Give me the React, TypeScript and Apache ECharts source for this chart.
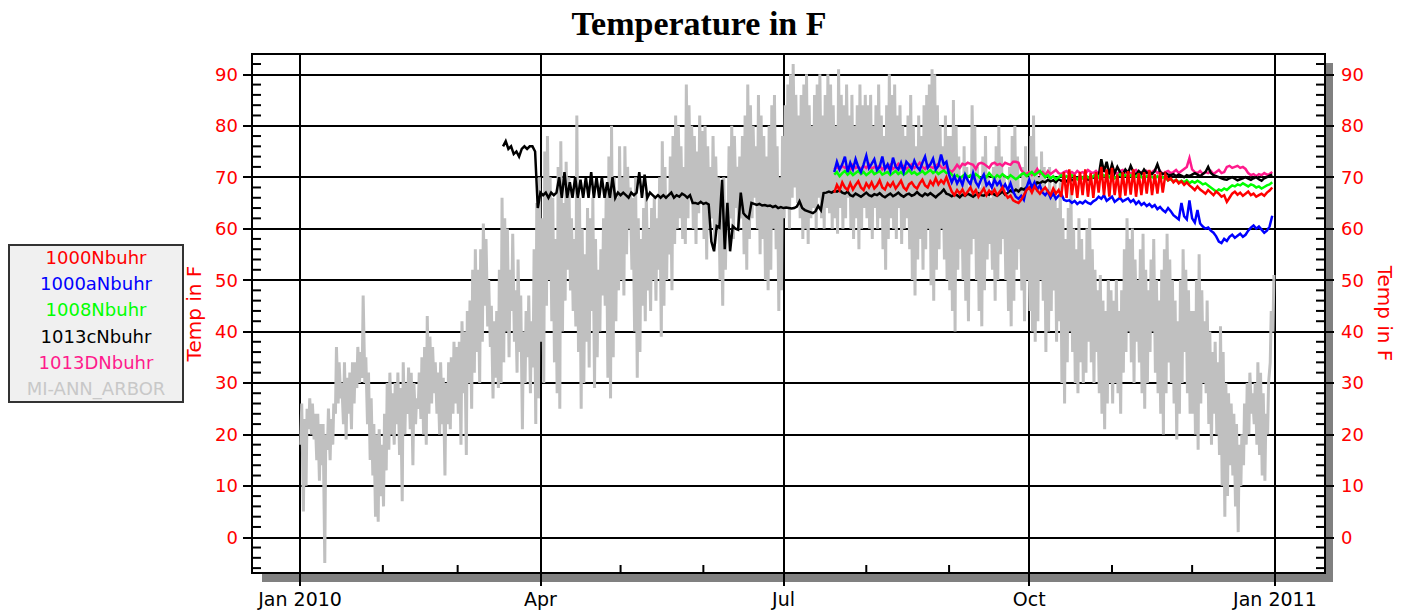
import React, { useEffect, useRef } from 'react';
import * as echarts from 'echarts';

// ---------- names, colours, ticks ----------
const seriesNames = ['1000Nbuhr', '1000aNbuhr', '1008Nbuhr', '1013cNbuhr', '1013DNbuhr', 'MI-ANN_ARBOR'];
const seriesColors = ['#ff0000', '#0000ff', '#00ff00', '#000000', '#ff1a8c', '#c0c0c0'];
const legendTextColors = ['#ff0000', '#0000ff', '#00ff00', '#000000', '#ff1a8c', '#c8c8c8'];
const seriesWidths = [2.5, 2.5, 2.5, 2.5, 2.5, 3];

const yTickValues = [0, 10, 20, 30, 40, 50, 60, 70, 80, 90];
const yMinorTicks = [-6, -4, -2, 2, 4, 6, 8, 12, 14, 16, 18, 22, 24, 26, 28, 32, 34, 36, 38, 42, 44, 46, 48,
  52, 54, 56, 58, 62, 64, 66, 68, 72, 74, 76, 78, 82, 84, 86, 88, 92];
const quarterTicks = ['2010-01-01', '2010-04-01', '2010-07-01', '2010-10-01', '2011-01-01'];
const quarterLabels = ['Jan 2010', 'Apr', 'Jul', 'Oct', 'Jan 2011'];
const monthTicks = ['2010-02-01', '2010-03-01', '2010-05-01', '2010-06-01', '2010-08-01', '2010-09-01', '2010-11-01', '2010-12-01'];

// ---------- MI-ANN_ARBOR: daily low / high (deg F), from 2010-01-01 ----------
const arborLow = [
  // Jan
  18, 5, 10, 21, 20, 19, 15, 11, 14, -5, 17, 15, 18, 24, 26, 27, 22, 19, 24, 21, 26, 29, 30, 31, 30, 22, 15, 12, 4, 3, 8,
  // Feb
  6, 13, 17, 20, 18, 22, 16, 7, 20, 24, 21, 14, 22, 25, 23, 20, 18, 24, 26, 28, 24, 20, 22, 12, 22, 21, 24, 26,
  // Mar
  24, 18, 28, 16, 30, 25, 32, 36, 30, 38, 45, 41, 37, 27, 31, 29, 30, 34, 40, 35, 44, 38, 32, 36, 21, 30, 35, 28, 33, 22, 27,
  // Apr
  38, 30, 45, 50, 42, 34, 28, 25, 40, 46, 52, 48, 44, 41, 36, 25, 30, 38, 33, 44, 29, 35, 40, 47, 45, 31, 27, 35, 42, 48,
  // May
  50, 47, 55, 60, 52, 40, 31, 36, 45, 42, 48, 44, 50, 46, 52, 39, 45, 50, 55, 48, 57, 60, 62, 58, 57, 62, 66, 60, 57, 63, 65,
  // Jun
  58, 54, 60, 62, 57, 60, 50, 45, 52, 60, 62, 58, 64, 60, 62, 55, 52, 58, 62, 66, 60, 55, 58, 50, 48, 52, 60, 56, 44, 48,
  // Jul
  62, 64, 60, 66, 68, 65, 62, 58, 60, 57, 62, 64, 60, 66, 62, 60, 64, 63, 60, 62, 59, 64, 60, 62, 66, 60, 58, 62, 56, 60, 64,
  // Aug
  62, 60, 58, 64, 60, 62, 56, 52, 58, 62, 60, 58, 64, 57, 60, 62, 56, 50, 47, 54, 58, 52, 56, 60, 49, 46, 52, 56, 60, 54, 50,
  // Sep
  48, 44, 40, 52, 56, 50, 46, 42, 55, 58, 50, 44, 41, 48, 54, 57, 52, 46, 50, 55, 58, 50, 44, 41, 46, 52, 56, 48, 42, 50,
  // Oct
  44, 40, 38, 42, 50, 46, 36, 40, 44, 48, 38, 42, 30, 26, 34, 40, 36, 30, 28, 34, 30, 32, 38, 34, 30, 36, 28, 24, 21, 26, 30,
  // Nov
  26, 30, 28, 24, 32, 36, 40, 34, 30, 38, 34, 28, 25, 30, 36, 40, 32, 28, 24, 20, 28, 34, 30, 26, 19, 24, 30, 36, 28, 24,
  // Dec
  24, 20, 17, 26, 30, 28, 22, 18, 24, 20, 16, 10, 4, 8, 14, 12, 6, 1, 10, 14, 18, 20, 24, 22, 18, 16, 12, 11, 20, 34, 40,
];
const arborHigh = [
  // Jan
  26, 23, 25, 27, 26, 24, 24, 22, 22, 20, 25, 23, 26, 37, 34, 30, 34, 31, 32, 34, 34, 37, 36, 47, 35, 32, 27, 22, 20, 21, 18,
  // Feb
  24, 30, 32, 28, 30, 32, 29, 34, 30, 33, 32, 30, 27, 32, 35, 37, 43, 39, 37, 34, 32, 34, 31, 30, 34, 35, 38, 37,
  // Mar
  38, 42, 40, 44, 46, 52, 56, 52, 56, 61, 58, 50, 45, 42, 44, 52, 66, 62, 60, 52, 59, 48, 54, 47, 40, 44, 47, 42, 56, 65, 70,
  // Apr
  62, 75, 78, 70, 66, 58, 72, 77, 65, 73, 70, 62, 58, 82, 66, 60, 55, 64, 62, 66, 58, 52, 56, 62, 68, 74, 80, 70, 66, 76,
  // May
  70, 76, 72, 68, 66, 70, 62, 58, 64, 67, 60, 64, 66, 62, 70, 77, 72, 66, 74, 78, 82, 80, 76, 72, 88, 84, 80, 78, 75, 82, 79,
  // Jun
  80, 76, 72, 78, 74, 70, 66, 70, 62, 76, 80, 78, 72, 74, 78, 82, 88, 84, 80, 76, 86, 82, 78, 74, 80, 84, 86, 76, 70, 78,
  // Jul
  84, 88, 90, 92, 86, 82, 86, 88, 90, 84, 80, 86, 88, 90, 82, 86, 90, 88, 84, 80, 91, 86, 84, 88, 82, 86, 80, 84, 88, 84, 86,
  // Aug
  84, 86, 80, 84, 88, 82, 78, 84, 90, 86, 88, 82, 84, 80, 78, 82, 86, 80, 76, 82, 78, 84, 86, 88, 91, 90, 84, 80, 76, 82, 78,
  // Sep
  78, 85, 80, 74, 70, 76, 72, 68, 84, 80, 72, 68, 74, 78, 70, 66, 72, 76, 80, 74, 70, 66, 72, 78, 80, 74, 68, 72, 76, 70,
  // Oct
  78, 82, 74, 70, 75, 72, 68, 72, 66, 70, 64, 69, 62, 58, 64, 68, 60, 56, 62, 58, 54, 60, 62, 56, 52, 48, 51, 46, 44, 50, 48,
  // Nov
  46, 50, 44, 48, 56, 62, 58, 60, 54, 50, 56, 59, 52, 48, 54, 58, 50, 46, 52, 56, 59, 54, 50, 46, 42, 50, 56, 52, 48, 44,
  // Dec
  44, 50, 55, 48, 42, 46, 40, 36, 38, 34, 41, 36, 30, 28, 26, 24, 22, 18, 20, 26, 30, 32, 28, 30, 34, 32, 28, 24, 30, 44, 51,
];

// ---------- 1013cNbuhr: daily, starting day 76 of 2010 ----------
const blackStartDay = 76;
const blackTemps = [
  76, 77, 75.5, 76, 74.5, 75, 74, 75.5, 76, 75.5,
  76, 76, 75, 64, 67, 66.5, 67, 66, 67, 66.5,
  67, 70, 66, 71, 66, 69, 66, 70, 66, 69.5,
  66, 70, 66, 71, 66, 70, 66, 70, 66, 69,
  66, 70, 66, 67, 66.5, 67, 66.5, 66, 67, 66.5,
  67, 71, 66, 70.5, 66, 67, 66.5, 66, 66.5, 66,
  66.5, 66, 66.5, 67, 66, 66.5, 66.2, 66.8, 66.5, 66,
  66.5, 65, 65, 64.8, 65.2, 64.8, 65, 64.7, 57.5, 55.6,
  60.5, 60.2, 69.5, 56, 65, 55.6, 60.5, 60, 59.8, 67,
  63, 62.4, 62, 65, 64.8, 64.6, 64.8, 64.5, 64.6, 64.4,
  64.5, 64.2, 64.4, 64, 64.2, 64, 64.1, 64, 63.9, 64,
  64.3, 65.3, 64, 63.6, 63.4, 63.2, 63, 63.4, 64.4, 63.6,
  66.9, 67, 67.2, 67, 67.3, 67.2, 67.5, 67, 66.8, 67.2,
  66.5, 66.3, 66.8, 66.5, 66.2, 66.6, 67, 66.5, 66.3, 66.7,
  66.5, 66.9, 66.4, 66.1, 66.5, 66.8, 66.3, 66.6, 67, 66.5,
  66.2, 66.6, 66.8, 66.4, 66.6, 67.1, 66.6, 66.3, 66.8, 66.5,
  66.9, 66.5, 66.1, 66.6, 67, 67.6, 66.8, 66.6, 66.3, 66.6,
  66.5, 66.1, 66.6, 66.4, 66.8, 66.5, 66.2, 66.6, 66.9, 66.5,
  66.4, 66.8, 66.6, 67.1, 66.6, 66.4, 66.8, 67.2, 66.6, 67,
  67.4, 67.1, 67.6, 67.2, 67.8, 67.6, 68, 67.8, 68.4, 68.1,
  69, 68.8, 69.2, 69, 69.5, 69.2, 69.4, 69, 69.6, 69.3,
  69.5, 69.2, 69.8, 69.4, 69.6, 69.8, 69.5, 70, 69.7, 69.5,
  69.8, 70, 69.6, 70.2, 73.5, 71, 73, 70.5, 72.5, 70.8,
  72, 71, 70.5, 71.5, 70.8, 72.2, 71, 70.5, 71.2, 70.6,
  71.5, 70.8, 71, 70.6, 71.2, 72.5, 71, 70.6, 70.8, 70.5,
  70.4, 70.6, 70.2, 70.5, 70.3, 70, 70.4, 70.2, 70.5, 70.8,
  70.5, 70.2, 70.6, 71, 72, 70.8, 70.4, 70.2, 70, 69.8,
  69.6, 69.5, 69.8, 70, 69.7, 69.4, 69.6, 69.8, 70, 69.7,
  69.5, 69.8, 70, 69.6, 69.3, 69.8, 70, 70.3, 70.5,
];

// ---------- other sensors: daily, starting day 200 of 2010 ----------
const sensorStartDay = 200;
const redTemps = [
  67, 68.5, 67.5, 69, 68, 67.5, 68.8, 67.6, 68.5, 69.2,
  68, 67.5, 68.8, 68, 69, 67.8, 68.4, 69.4, 68, 67.6,
  68.8, 68.2, 69, 67.8, 68.5, 69.3, 68, 67.5, 68.6, 69,
  68.2, 67.8, 68.8, 69.5, 68.4, 68, 69.2, 68.5, 69.8, 68.6,
  69.4, 68.8, 70, 68.5, 67.2, 66.5, 67.5, 66.8, 67.6, 66.5,
  67.2, 68, 66.8, 67.5, 66.2, 67, 67.8, 66.5, 67.4, 66.8,
  67.6, 66.5, 67.2, 68, 66.8, 66, 66.4, 65.5, 65.2, 65,
  65.6, 66.5, 67.5, 68, 67, 68.2, 67.4, 66.8, 67.5, 68,
  67.2, 66.5, 67.8, 66.8, 67.5, 66.2, 71, 66, 71.5, 66.5,
  70.5, 66, 71, 66.5, 71.5, 66.2, 70.8, 66, 71, 67,
  72, 66.5, 71.5, 66.2, 71.8, 66.5, 70.5, 66, 71, 66.4,
  71.2, 66.6, 71.5, 66.2, 70.8, 66.5, 71, 66.8, 71.4, 66.5,
  70.6, 66.8, 71, 67, 70.5, 69.4, 69.8, 69, 69.5, 68.8,
  69.2, 68.5, 69, 68.4, 68, 67.5, 68.2, 67.6, 67.2, 66.8,
  67.5, 67, 66.5, 67.2, 66.8, 66.2, 66.5, 65.2, 66, 66.8,
  67.2, 66.6, 67, 66.4, 66.8, 67.2, 66.5, 66.8, 66.2, 66.5,
  66.8, 66.4, 67, 67.4, 68,
];
const blueTemps = [
  71, 73, 71.5, 72.5, 74, 71, 72.8, 71.5, 73.5, 72,
  71, 72.5, 74.2, 71.8, 72.6, 73.5, 71.4, 72, 74, 71.6,
  72.5, 71.2, 73.8, 72, 71.5, 72.8, 71, 73, 72.4, 71.6,
  73.2, 72, 71.4, 72.8, 74, 71.8, 72.5, 73.6, 71.5, 72.2,
  74.4, 72.5, 73, 70.5, 69, 70.2, 68.8, 69.8, 68.5, 70.5,
  69.4, 68.6, 70.8, 69, 68.2, 69.6, 70.5, 68.4, 69, 68,
  69.5, 68.5, 69.2, 67.8, 68.6, 67.5, 68.8, 67.2, 66.2, 65.8,
  66.4, 65.6, 68, 69.5, 68, 69, 67.6, 68.4, 67, 66.5,
  67.2, 66, 66.8, 65.8, 66.4, 66.8, 65.6, 65.4, 65.5, 65,
  65.4, 64.8, 65.2, 64.9, 65.4, 65, 64.8, 65.3, 65.6, 66.2,
  65.8, 66.5, 65.4, 65.8, 66.2, 65.2, 65.6, 66, 65.3, 65.6,
  65.9, 65.2, 65.6, 64.8, 65.3, 64.6, 65, 64.4, 64.8, 64.2,
  64.6, 63.8, 64.2, 63.6, 63.2, 64, 63.4, 62.6, 62.2, 61.8,
  65, 62.4, 61.8, 65.5, 62, 61.2, 63.6, 61, 60.4, 60,
  60.2, 59.6, 59.2, 58.5, 57.5, 57.2, 58, 57.6, 58.4, 58.8,
  58.2, 58.6, 59, 58.4, 58.8, 59.6, 60.2, 60.6, 60, 60.4,
  59.8, 59.2, 59.6, 60.4, 62.5,
];
const greenTemps = [
  70.5, 71, 70.2, 70.8, 71.2, 70.5, 71, 70.4, 70.8, 71.2,
  70.6, 71, 70.4, 70.8, 71.3, 70.6, 70.9, 71.2, 70.5, 70.8,
  71, 70.4, 70.8, 71.2, 70.6, 71, 70.5, 70.8, 71.4, 70.7,
  71, 70.5, 70.8, 71.2, 70.6, 71, 71.4, 70.8, 71.2, 70.6,
  71, 71.3, 70.8, 71, 70.5, 70, 70.4, 69.8, 70.2, 70.6,
  70, 70.4, 69.8, 70.6, 70.2, 69.6, 70.4, 70, 70.8, 70.2,
  69.8, 70.4, 70, 70.6, 70.2, 69.8, 70.4, 70, 69.6, 70,
  70.5, 70.8, 70.2, 70.6, 71, 70.4, 70.8, 71.2, 70.6, 70,
  70.4, 69.8, 70.2, 69.6, 70, 70.4, 69.8, 70.2, 69.8, 70.4,
  70, 69.6, 70.2, 69.8, 70.4, 70, 69.6, 70.2, 70.6, 70,
  70.8, 70.2, 70.6, 70, 70.4, 69.8, 70.2, 70.6, 70, 70.4,
  70, 70.4, 69.8, 70.2, 70.6, 70, 69.8, 70.2, 70.4, 70,
  69.8, 70.2, 69.6, 70, 69.8, 69.4, 69.6, 69.2, 69.5, 69,
  69.3, 69, 69.4, 68.8, 69.2, 68.9, 69.3, 69, 68.6, 68.8,
  68.4, 68, 67.6, 67.2, 67.6, 67.4, 67.8, 67.5, 68, 68.4,
  68.2, 68.6, 68.4, 68.8, 68.5, 68.2, 68.6, 68.4, 68, 68.2,
  67.8, 68.1, 68.4, 68.6, 69,
];
const pinkTemps = [
  71.5, 72, 71.6, 72.2, 71.8, 72, 71.4, 72.4, 71.8, 72,
  71.6, 72.2, 71.8, 72.5, 71.6, 72, 71.8, 72.3, 71.5, 72,
  71.8, 72.4, 71.6, 72, 72.6, 71.8, 72.2, 71.6, 72, 72.5,
  71.8, 72.2, 72.8, 72, 71.6, 72.4, 72, 71.8, 72.2, 72.6,
  72, 71.6, 72.2, 71.4, 71, 71.6, 72.4, 71.8, 72.6, 72.4,
  72.8, 72.6, 72.4, 71.6, 72.6, 72.8, 72.6, 72.2, 71.8, 72.6,
  72.8, 72.4, 72.6, 72.2, 72.8, 72.6, 72.4, 73, 73, 72.8,
  71.4, 70.8, 70.6, 71, 70.4, 70.8, 71.6, 70.6, 71, 70.4,
  71.2, 70.6, 71, 71.4, 70.8, 70.6, 71, 71.2, 70.6, 71,
  70.6, 71.2, 70.8, 71, 70.6, 71.4, 71, 70.8, 71.2, 70.6,
  71, 71.5, 70.8, 71.2, 71.6, 71, 70.6, 71.2, 71.4, 70.8,
  71.2, 70.6, 71, 71.4, 70.8, 71, 70.6, 71.2, 70.8, 71,
  71.4, 70.8, 71.2, 70.6, 71, 71.2, 70.8, 71, 71.4, 70.8,
  71.2, 71.6, 72, 73.7, 71.5, 71, 70.8, 71.2, 70.6, 71,
  70.8, 71.2, 70.6, 71, 71.4, 70.8, 71, 72, 72.2, 71.8,
  72, 72.2, 71.8, 72, 71.6, 70.8, 70.4, 70.6, 70.2, 70.6,
  70.4, 70.8, 70.5, 70.6, 71,
];

// ---------- helpers ----------
const DAY_MS = 86400000;
const parseDay = (s: string) => {
  const [y, m, d] = s.split('-').map(Number);
  return new Date(y, m - 1, d).getTime();
};
const T0 = parseDay('2010-01-01');
const ts = (day: number) => T0 + day * DAY_MS;
const X_MIN = parseDay('2009-12-14');
const X_MAX = parseDay('2011-01-19') + 18 * 3600000;
const Y_MIN = -6.95;
const Y_MAX = 93.95;
const quarterTs = quarterTicks.map(parseDay);

const FONT = 'DejaVu Sans';
const RED = '#ff0000';

function buildOption() {
  const arborData: [number, number][] = [];
  const n = Math.min(arborLow.length, arborHigh.length);
  for (let i = 0; i < n; i++) {
    arborData.push([ts(i + 0.25), arborLow[i]]);
    arborData.push([ts(i + 0.62), arborHigh[i]]);
  }
  const daily = (start: number, vals: number[]) => vals.map((v, i) => [ts(start + i), v]);

  const line = (idx: number, data: any[], z: number) => ({
    type: 'line',
    name: seriesNames[idx],
    data,
    showSymbol: false,
    symbol: 'none',
    silent: true,
    z,
    clip: true,
    lineStyle: { color: seriesColors[idx], width: seriesWidths[idx], join: 'miter' },
    itemStyle: { color: seriesColors[idx] },
    emphasis: { disabled: true },
  });

  const tickLine = (dx1: number, dy1: number, dx2: number, dy2: number) =>
    (params: any, api: any) => {
      const p = api.coord([api.value(0), api.value(1)]);
      return {
        type: 'line',
        shape: { x1: p[0] + dx1, y1: p[1] + dy1, x2: p[0] + dx2, y2: p[1] + dy2 },
        style: { stroke: '#000', lineWidth: 2 },
      };
    };

  const axisLineStyle = { color: '#000', width: 2 };

  const yAxisBase = (pos: 'left' | 'right') => ({
    type: 'value',
    min: Y_MIN,
    max: Y_MAX,
    position: pos,
    name: 'Temp in F',
    nameLocation: 'middle',
    nameRotate: pos === 'left' ? 90 : -90,
    nameGap: 44,
    nameTextStyle: { color: RED, fontSize: 20, fontFamily: FONT },
    axisLine: { show: true, onZero: false, lineStyle: axisLineStyle },
    axisTick: { show: true, inside: false, length: 9, customValues: yTickValues, lineStyle: axisLineStyle },
    axisLabel: {
      show: true,
      customValues: yTickValues,
      color: RED,
      fontSize: 18,
      fontFamily: FONT,
      margin: pos === 'left' ? 14 : 16,
    },
    splitLine: { show: pos === 'left', lineStyle: { color: '#000', width: 2 } },
    minorTick: { show: false },
    minorSplitLine: { show: false },
  });

  return {
    animation: false,
    backgroundColor: '#ffffff',
    grid: {
      left: 252, top: 54, right: 82, bottom: 43,
      show: true, backgroundColor: '#ffffff', borderColor: '#000', borderWidth: 2,
      containLabel: false, outerBoundsMode: 'none',
    },
    xAxis: {
      type: 'value',
      min: X_MIN,
      max: X_MAX,
      axisLine: { show: true, onZero: false, lineStyle: axisLineStyle },
      axisTick: { show: true, inside: false, length: 13, customValues: quarterTs, lineStyle: axisLineStyle },
      axisLabel: {
        show: true,
        customValues: quarterTs,
        color: '#000',
        fontSize: 19,
        fontFamily: FONT,
        margin: 16,
        hideOverlap: false,
        formatter: (val: number) => {
          const k = quarterTs.findIndex((t) => Math.abs(t - val) < DAY_MS / 2);
          return k >= 0 ? quarterLabels[k] : '';
        },
      },
      splitLine: { show: true, lineStyle: { color: '#000', width: 2 } },
      minorTick: { show: false },
      minorSplitLine: { show: false },
    },
    yAxis: [yAxisBase('left'), yAxisBase('right')],
    graphic: [
      // drop shadow behind the plot frame
      { type: 'rect', z: -10, silent: true, shape: { x: 262, y: 63, width: 1071, height: 519 }, style: { fill: '#808080' } },
      // title
      {
        type: 'text', z: 100, x: 699, y: 23, silent: true,
        style: {
          text: 'Temperature in F', fill: '#000', fontSize: 34, fontWeight: 'bold', fontFamily: 'Liberation Serif',
          textAlign: 'center', align: 'center', textVerticalAlign: 'middle', verticalAlign: 'middle',
        },
      },
      // legend box
      {
        type: 'rect', z: 100, silent: true,
        shape: { x: 9, y: 245, width: 174, height: 157 },
        style: { fill: '#f0f0f0', stroke: '#333333', lineWidth: 2 },
      },
      ...seriesNames.map((name, i) => ({
        type: 'text', z: 101, silent: true, x: 96, y: 257.5 + i * 26.2,
        style: {
          text: name, fill: legendTextColors[i], fontSize: 18, fontFamily: FONT,
          textAlign: 'center', align: 'center', textVerticalAlign: 'middle', verticalAlign: 'middle',
        },
      })),
    ],
    series: [
      line(5, arborData, 2),
      line(4, daily(sensorStartDay, pinkTemps), 3),
      line(3, daily(blackStartDay, blackTemps), 4),
      line(2, daily(sensorStartDay, greenTemps), 5),
      line(1, daily(sensorStartDay, blueTemps), 6),
      line(0, daily(sensorStartDay, redTemps), 7),
      {
        type: 'custom', silent: true, z: 8, clip: false,
        encode: { x: 0, y: 1 },
        data: yMinorTicks.map((v) => [X_MIN, v]),
        renderItem: tickLine(0, 0, 9, 0),
      },
      {
        type: 'custom', silent: true, z: 8, clip: false,
        encode: { x: 0, y: 1 },
        data: yMinorTicks.map((v) => [X_MAX, v]),
        renderItem: tickLine(-9, 0, 0, 0),
      },
      {
        type: 'custom', silent: true, z: 8, clip: false,
        encode: { x: 0, y: 1 },
        data: monthTicks.map((s) => [parseDay(s), Y_MIN]),
        renderItem: tickLine(0, 0, 0, -8),
      },
    ],
  };
}

export default function App() {
  const ref = useRef<HTMLDivElement>(null);
  useEffect(() => {
    if (!ref.current) return;
    const chart = echarts.init(ref.current, undefined, { renderer: 'svg' });
    chart.setOption(buildOption() as any);
    return () => chart.dispose();
  }, []);
  return (
    <div
      ref={ref}
      style={{ position: 'absolute', left: 0, top: 0, width: 1407, height: 616, background: '#fff' }}
    />
  );
}
